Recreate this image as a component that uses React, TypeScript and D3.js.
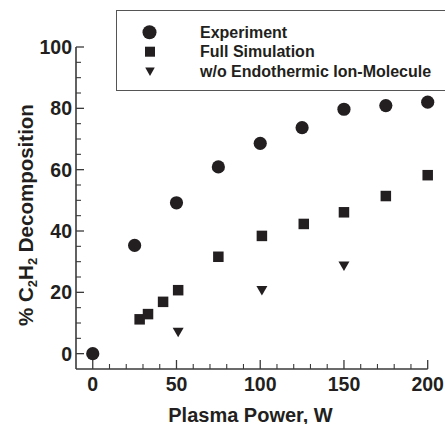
import * as d3 from 'd3';

// Plasma power (W) and % decomposition
const expPower = [0, 25, 50, 75, 100, 125, 150, 175, 200];
const expValue = [0, 35.3, 49.2, 60.9, 68.6, 73.7, 79.7, 80.9, 82.0];

const simPower = [28, 33, 42, 51, 75, 101, 126, 150, 175, 200];
const simValue = [11.2, 12.9, 16.9, 20.7, 31.6, 38.4, 42.3, 46.1, 51.4, 58.2];

const noEndoPower = [51, 101, 150];
const noEndoValue = [6.9, 20.5, 28.5];

const xMajor = [0, 50, 100, 150, 200];
const yMajor = [0, 20, 40, 60, 80, 100];

const legendLabels = ['Experiment', 'Full Simulation', 'w/o Endothermic Ion-Molecule'];

const INK = '#231f20';
const FONT = '"Liberation Sans", Arial, Helvetica, sans-serif';

export default function App() {
    const width = 445;
    const height = 424;

    const x = d3.scaleLinear().domain([-10, 200]).range([76, 427.7]);
    const y = d3.scaleLinear().domain([-5, 100]).range([369, 47]);

    const xMinor = d3.range(10, 200, 10).filter(v => v % 50 !== 0);
    const yMinor = d3.range(5, 100, 5).filter(v => v % 20 !== 0);

    const sq = 10.5;
    const triangle = (cx: number, cy: number, w: number, h: number) =>
        `M${cx - w / 2},${cy - h / 2}L${cx + w / 2},${cy - h / 2}L${cx},${cy + h / 2}Z`;

    const axisColor = '#3a3a3a';

    return (
        <svg width={width} height={height} style={{ position: 'absolute', left: 0, top: 0, background: '#fff' }}
            fontFamily={FONT} fontWeight="bold">
            {/* axes */}
            <line x1={x(-10)} x2={x(200)} y1={y(-5)} y2={y(-5)} stroke={axisColor} strokeWidth={1.6} />
            <line x1={x(-10)} x2={x(-10)} y1={y(-5)} y2={y(100)} stroke={axisColor} strokeWidth={1.6} />

            {xMajor.map(v => (
                <line key={'xM' + v} x1={x(v)} x2={x(v)} y1={y(-5)} y2={y(-5) - 9} stroke={axisColor} strokeWidth={1.3} />
            ))}
            {xMinor.map(v => (
                <line key={'xm' + v} x1={x(v)} x2={x(v)} y1={y(-5)} y2={y(-5) - 5} stroke={axisColor} strokeWidth={1.1} />
            ))}
            {yMajor.map(v => (
                <line key={'yM' + v} x1={x(-10)} x2={x(-10) + 8} y1={y(v)} y2={y(v)} stroke={axisColor} strokeWidth={1.3} />
            ))}
            {yMinor.map(v => (
                <line key={'ym' + v} x1={x(-10)} x2={x(-10) + 5} y1={y(v)} y2={y(v)} stroke={axisColor} strokeWidth={1.1} />
            ))}

            {xMajor.map(v => (
                <text key={'xl' + v} x={x(v)} y={391} textAnchor="middle" fontSize={19.5} fill={INK}>{v}</text>
            ))}
            {yMajor.map(v => (
                <text key={'yl' + v} x={72} y={y(v) + 7} textAnchor="end" fontSize={19.5} fill={INK}>{v}</text>
            ))}

            <text x={250.5} y={422} textAnchor="middle" fontSize={20} fill={INK}>Plasma Power, W</text>
            <text transform="translate(33,215) rotate(-90)" textAnchor="middle" fontSize={20.5} fill={INK}>
                % C<tspan fontSize={13} dy={4}>2</tspan><tspan dy={-4}>H</tspan><tspan fontSize={13} dy={4}>2</tspan><tspan dy={-4}> Decomposition</tspan>
            </text>

            {/* data */}
            {simPower.map((p, i) => (
                <rect key={'s' + i} x={x(p) - sq / 2} y={y(simValue[i]) - sq / 2} width={sq} height={sq} fill={INK} />
            ))}
            {noEndoPower.map((p, i) => (
                <path key={'t' + i} d={triangle(x(p), y(noEndoValue[i]), 11, 9.5)} fill={INK} />
            ))}
            {expPower.map((p, i) => (
                <circle key={'c' + i} cx={x(p)} cy={y(expValue[i])} r={6.6} fill={INK} />
            ))}

            {/* legend */}
            <rect x={116.5} y={10.5} width={340} height={80} fill="#fff" stroke="#555" strokeWidth={1} />
            <circle cx={149.5} cy={32.3} r={7} fill={INK} />
            <rect x={145} y={46.7} width={10} height={10} fill={INK} />
            <path d={triangle(150, 71.7, 9.5, 8.5)} fill={INK} />
            {legendLabels.map((label, i) => (
                <text key={label} x={200} y={37.5 + i * 19.5} fontSize={16} fill={INK}>{label}</text>
            ))}
        </svg>
    );
}
